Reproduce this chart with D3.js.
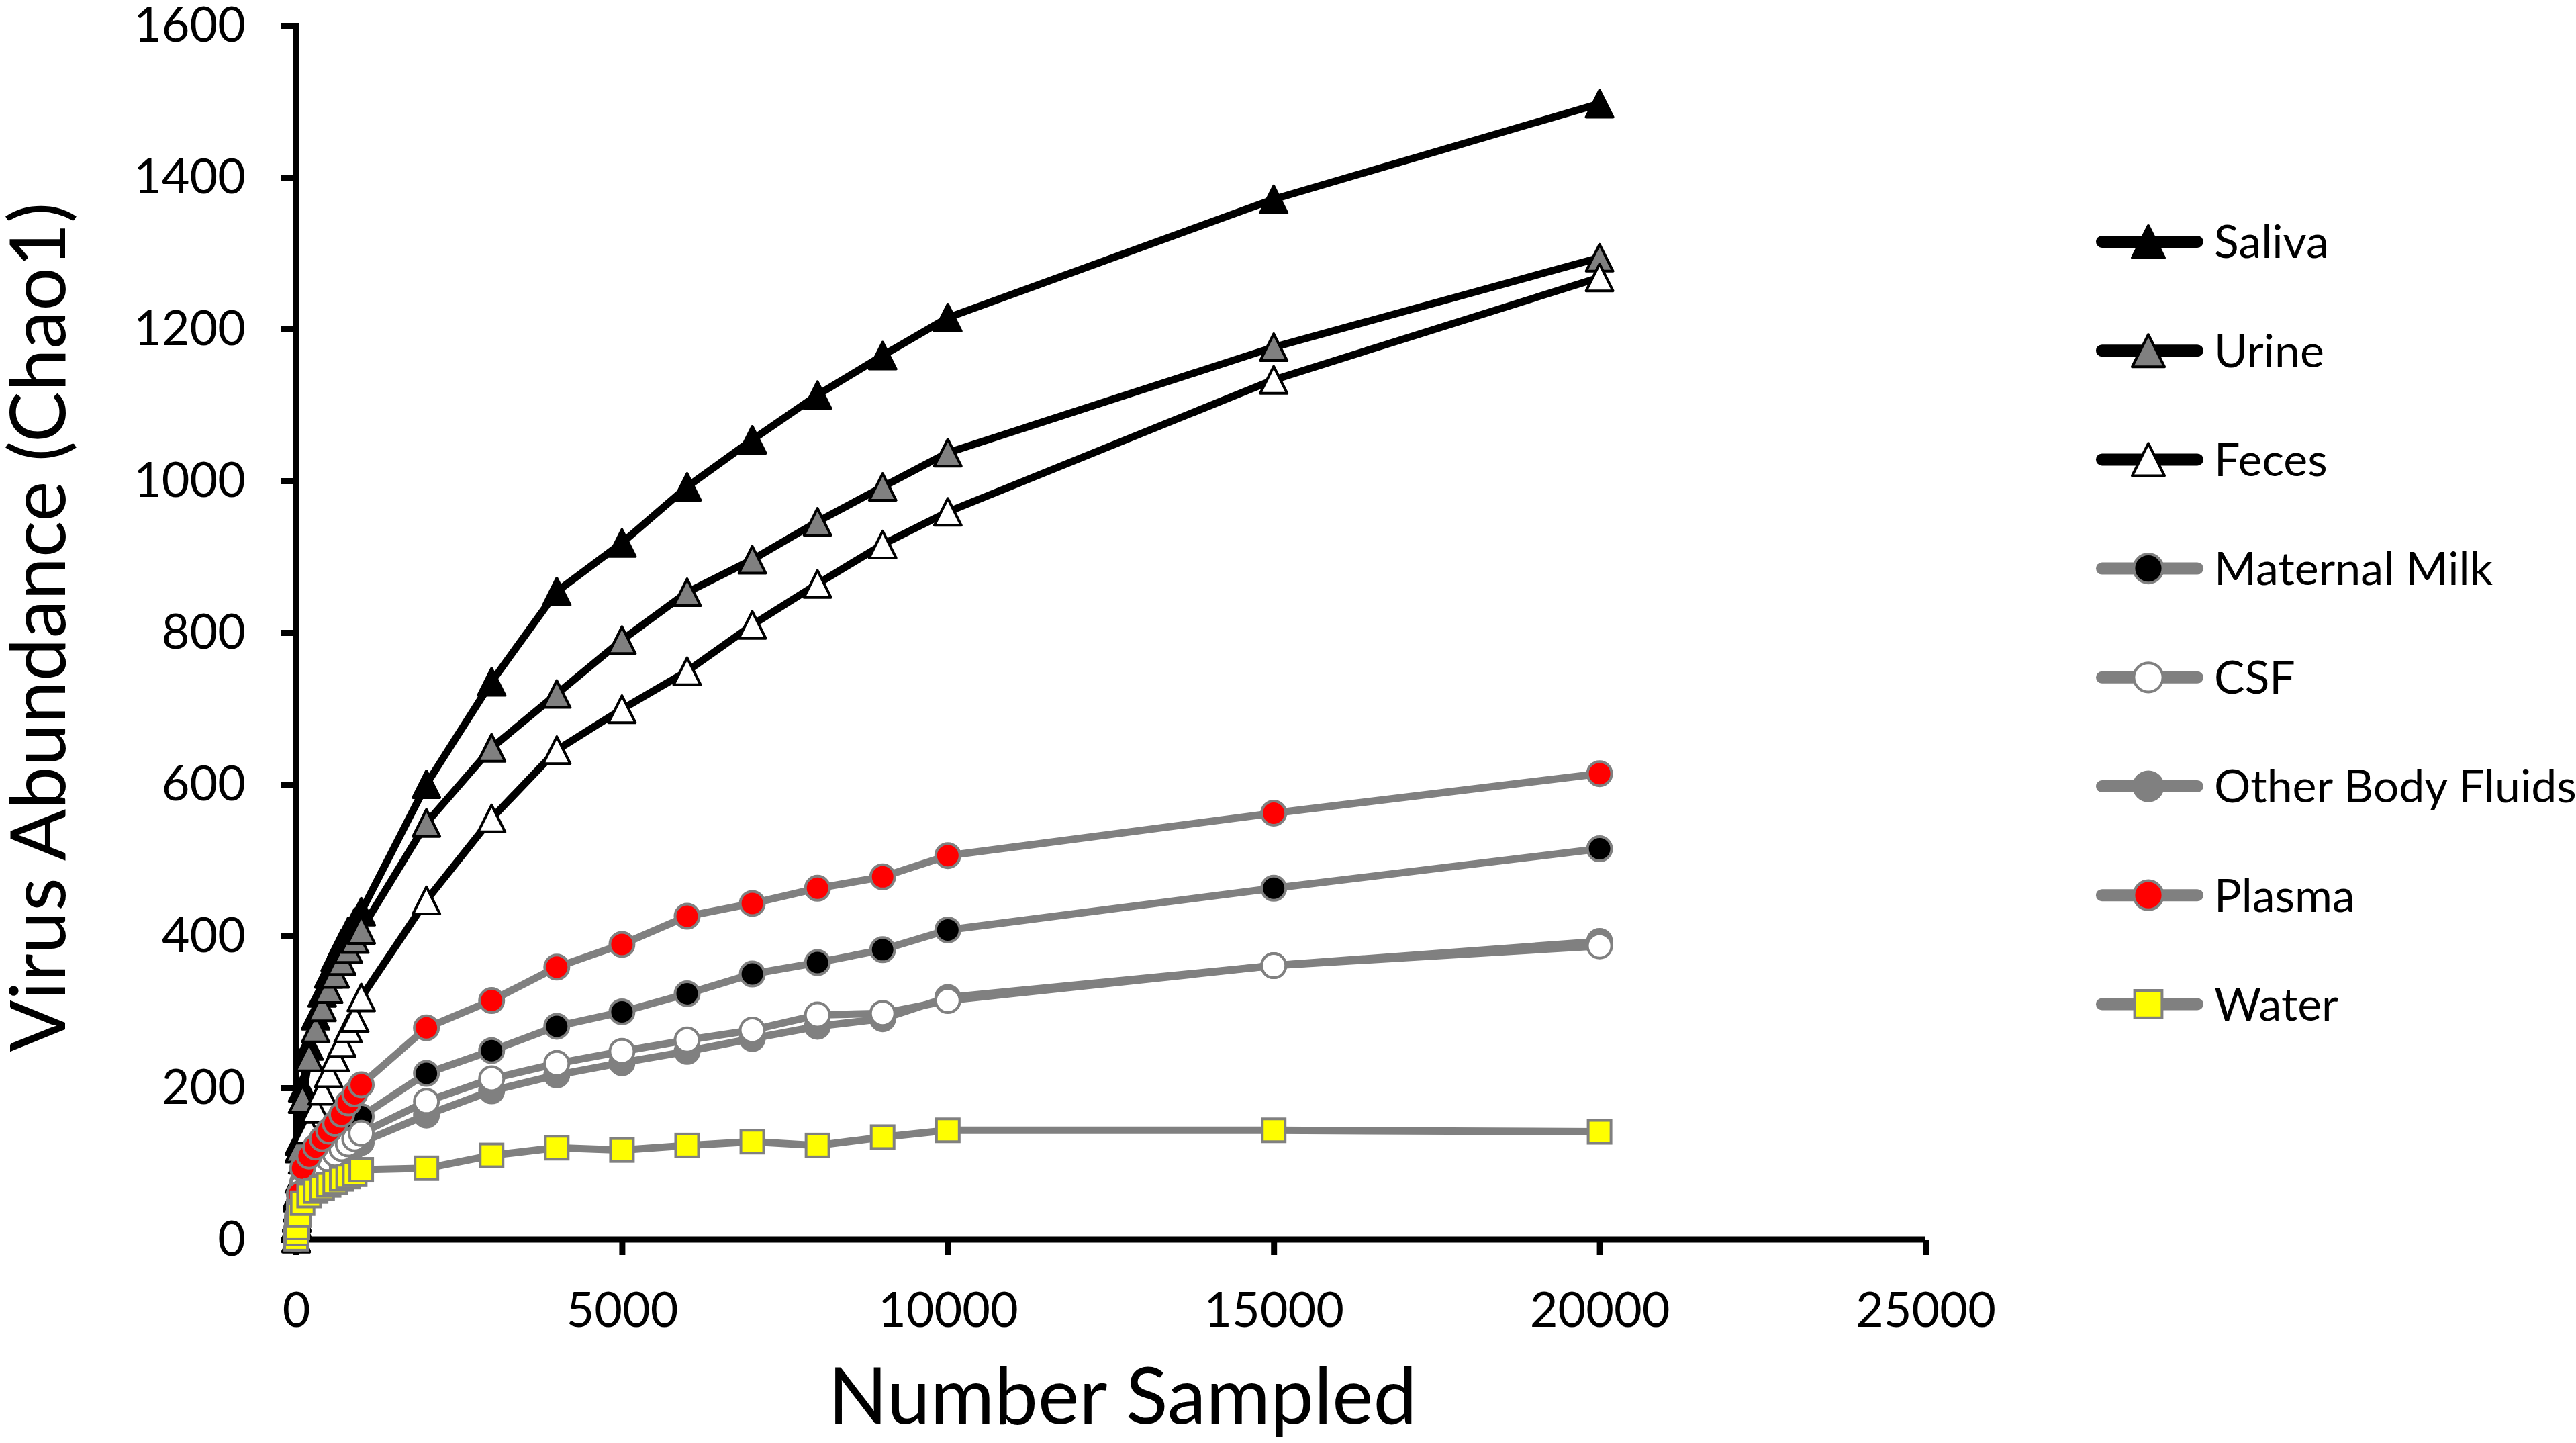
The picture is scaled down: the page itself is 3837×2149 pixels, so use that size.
<!DOCTYPE html>
<html>
<head>
<meta charset="utf-8">
<script src="https://cdn.jsdelivr.net/npm/d3@7"></script>
<style>
  html, body { margin: 0; padding: 0; background: #fff; }
  text { font-family: Lato, "Noto Sans", sans-serif; fill: #000; }
</style>
</head>
<body>
<script>
(function () {
  "use strict";

  // sampling depth (x) shared by all curves
  var sampled = [1, 10, 20, 50, 100, 200, 300, 400, 500, 600, 700, 800, 900, 1000,
                 2000, 3000, 4000, 5000, 6000, 7000, 8000, 9000, 10000, 15000, 20000];

  var saliva = [2, 30, 60, 130, 200, 255, 295, 325, 350, 372, 390, 406, 418, 432,
                600, 735, 854, 918, 992, 1054, 1113, 1165, 1215, 1371, 1497];
  var urine  = [2, 28, 55, 120, 185, 240, 278, 306, 330, 350, 367, 383, 396, 408,
                549, 648, 719, 790, 853, 896, 946, 992, 1037, 1176, 1294];
  var feces  = [1, 22, 42, 80, 105, 145, 172, 196, 219, 240, 259, 278, 292, 319,
                447, 555, 645, 699, 749, 810, 864, 916, 959, 1133, 1268];
  var milk   = [1, 12, 25, 50, 75, 88, 98, 108, 118, 127, 135, 143, 150, 162,
                219, 249, 281, 300, 324, 350, 365, 382, 408, 463, 515];
  var csf    = [1, 12, 22, 45, 70, 80, 90, 98, 106, 113, 120, 126, 133, 140,
                182, 212, 232, 248, 263, 276, 296, 298, 315, 361, 387];
  var otherFluids = [1, 10, 20, 42, 65, 75, 84, 92, 100, 106, 112, 118, 124, 128,
                164, 196, 217, 233, 248, 265, 281, 291, 319, 361, 393];
  var plasma = [1, 15, 30, 60, 94, 110, 122, 133, 143, 153, 165, 180, 192, 204,
                279, 315, 359, 389, 426, 443, 463, 478, 506, 562, 614];
  var water  = [1, 8, 16, 32, 48, 58, 64, 68, 72, 76, 80, 83, 86, 92,
                94, 111, 121, 118, 124, 129, 124, 135, 144, 144, 142];

  var xTicks = [0, 5000, 10000, 15000, 20000, 25000];
  var yTicks = [0, 200, 400, 600, 800, 1000, 1200, 1400, 1600];

  // legend order
  var series = [
    { name: "Saliva",            values: saliva,      shape: "tri",    fill: "#000000", stroke: "#000000", line: "#000000" },
    { name: "Urine",             values: urine,       shape: "tri",    fill: "#808080", stroke: "#000000", line: "#000000" },
    { name: "Feces",             values: feces,       shape: "tri",    fill: "#ffffff", stroke: "#000000", line: "#000000" },
    { name: "Maternal Milk",     values: milk,        shape: "circle", fill: "#000000", stroke: "#808080", line: "#808080" },
    { name: "CSF",               values: csf,         shape: "circle", fill: "#ffffff", stroke: "#808080", line: "#808080" },
    { name: "Other Body Fluids", values: otherFluids, shape: "circle", fill: "#808080", stroke: "#808080", line: "#808080" },
    { name: "Plasma",            values: plasma,      shape: "circle", fill: "#ff0000", stroke: "#808080", line: "#808080" },
    { name: "Water",             values: water,       shape: "square", fill: "#ffff00", stroke: "#808080", line: "#808080" }
  ];
  // CSF sits on top of Other Body Fluids in the picture
  var drawOrder = ["Saliva", "Urine", "Feces", "Maternal Milk", "Other Body Fluids", "CSF", "Plasma", "Water"];

  var W = 3837, H = 2149;
  var x0 = 441, x1 = 2868, y0 = 1846, y1 = 38;

  var svg = d3.select("body").append("svg")
      .attr("width", W).attr("height", H);

  var x = d3.scaleLinear().domain([0, 25000]).range([x0, x1]);
  var y = d3.scaleLinear().domain([0, 1600]).range([y0, y1]);

  // axes
  var yAxis = svg.append("g")
      .attr("transform", "translate(" + x0 + ",0)")
      .call(d3.axisLeft(y).tickValues(yTicks).tickSize(23).tickSizeOuter(0).tickPadding(52)
        .tickFormat(d3.format("d")));
  var xAxis = svg.append("g")
      .attr("transform", "translate(0," + y0 + ")")
      .call(d3.axisBottom(x).tickValues(xTicks).tickSize(23).tickSizeOuter(0).tickFormat(d3.format("d")));

  [xAxis, yAxis].forEach(function (g) {
    g.select(".domain").attr("stroke", "#000").attr("stroke-width", 9);
    g.selectAll(".tick line").attr("stroke", "#000").attr("stroke-width", 9);
    g.selectAll("text").attr("font-family", "Lato").attr("font-size", 72).attr("fill", "#000");
  });
  yAxis.select(".domain").attr("d", "M0," + (y0 + 4) + "V" + (y1 - 4));
  xAxis.select(".domain").attr("d", "M" + (x0 - 4) + ",0H" + x1);
  xAxis.selectAll("text").attr("dy", null).attr("y", 130);

  // axis titles
  svg.append("text")
      .attr("transform", "translate(97," + 934 + ") rotate(-90)")
      .attr("text-anchor", "middle")
      .attr("font-size", 114)
      .text("Virus Abundance (Chao1)");
  svg.append("text")
      .attr("x", 1672).attr("y", 2120)
      .attr("text-anchor", "middle")
      .attr("font-size", 116)
      .text("Number Sampled");

  function marker(sel, s, k) {
    if (s.shape === "tri") {
      var w = 40 * k, h = 40 * k;
      sel.append("path")
          .attr("d", "M0," + (-h / 2) + "L" + (w / 2) + "," + (h / 2) + "L" + (-w / 2) + "," + (h / 2) + "Z")
          .attr("fill", s.fill).attr("stroke", s.stroke).attr("stroke-width", 4)
          .attr("stroke-linejoin", "round");
    } else if (s.shape === "circle") {
      sel.append("circle").attr("r", 18 * k)
          .attr("fill", s.fill).attr("stroke", s.stroke).attr("stroke-width", 4);
    } else {
      var a = 34 * k;
      sel.append("rect").attr("x", -a / 2).attr("y", -a / 2).attr("width", a).attr("height", a)
          .attr("fill", s.fill).attr("stroke", s.stroke).attr("stroke-width", 4);
    }
  }

  var line = d3.line()
      .x(function (d) { return x(d[0]); })
      .y(function (d) { return y(d[1]); });

  var plot = svg.append("g");
  drawOrder.forEach(function (name) {
    var s = series.find(function (d) { return d.name === name; });
    var pts = sampled.map(function (v, i) { return [v, s.values[i]]; });
    var g = plot.append("g");
    g.append("path")
        .attr("d", line(pts))
        .attr("fill", "none")
        .attr("stroke", s.line)
        .attr("stroke-width", 11)
        .attr("stroke-linejoin", "round");
    g.selectAll("g.pt")
        .data(pts)
        .enter().append("g")
        .attr("class", "pt")
        .attr("transform", function (d) { return "translate(" + x(d[0]) + "," + y(d[1]) + ")"; })
        .each(function () { marker(d3.select(this), s, 1); });
  });

  // legend
  var legend = svg.append("g");
  var rows = legend.selectAll("g.row")
      .data(series)
      .enter().append("g")
      .attr("class", "row")
      .attr("transform", function (d, i) { return "translate(0," + (360 + i * 162.2) + ")"; });
  rows.append("line")
      .attr("x1", 3131).attr("x2", 3273)
      .attr("stroke", function (d) { return d.line; })
      .attr("stroke-width", 18)
      .attr("stroke-linecap", "round");
  rows.append("g")
      .attr("transform", "translate(3200,0)")
      .each(function (d) { marker(d3.select(this), d, 1.2); });
  rows.append("text")
      .attr("x", 3298)
      .attr("dy", "0.36em")
      .attr("font-size", 68)
      .text(function (d) { return d.name; });
})();
</script>
</body>
</html>
